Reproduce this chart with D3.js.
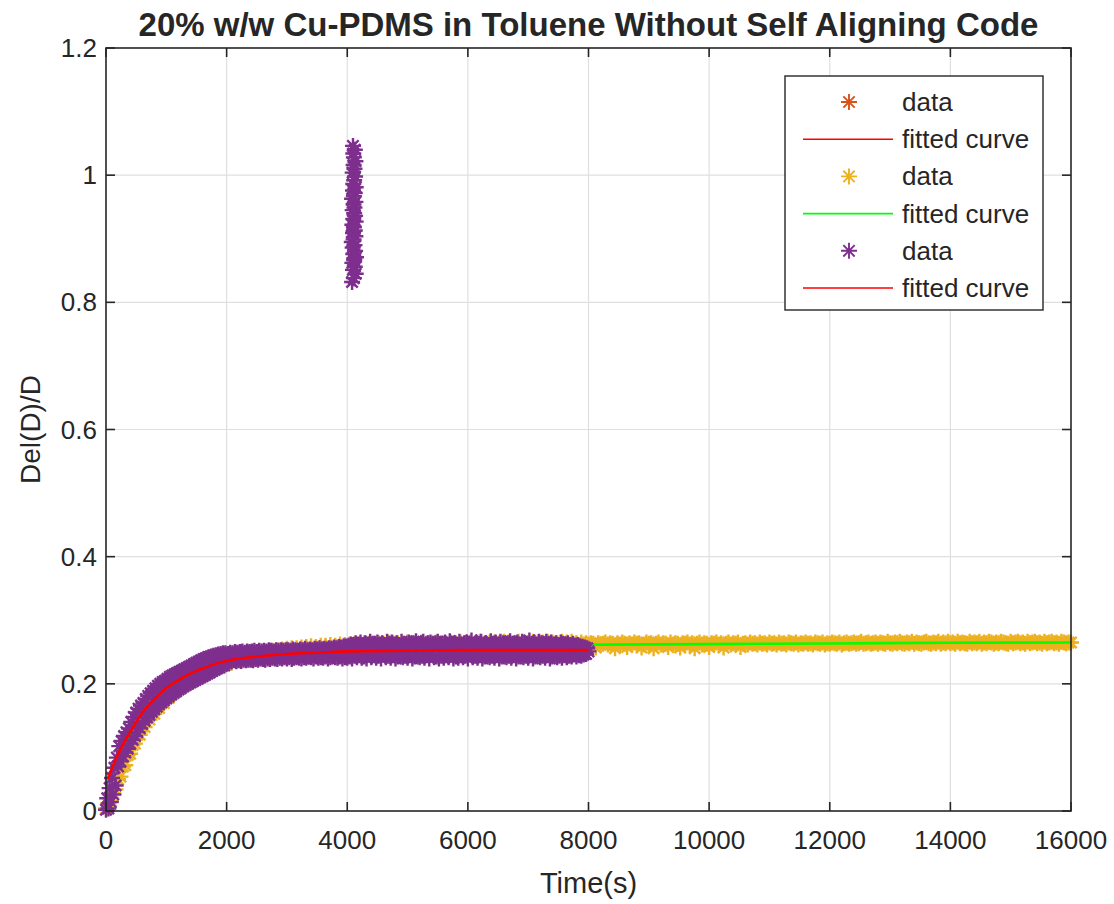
<!DOCTYPE html>
<html>
<head>
<meta charset="utf-8">
<script src="https://cdn.jsdelivr.net/npm/d3@7"></script>
<style>
  body { margin: 0; background: #ffffff; }
  text { font-family: "Liberation Sans", Arial, Helvetica, sans-serif; fill: #262626; }
</style>
</head>
<body>
<svg id="chart" width="1114" height="904"></svg>
<script>
// ---- axis ticks and labels ----
const xTicks = [0, 2000, 4000, 6000, 8000, 10000, 12000, 14000, 16000];
const yTicks = [0, 0.2, 0.4, 0.6, 0.8, 1, 1.2];
const titleText = "20% w/w Cu-PDMS in Toluene Without Self Aligning Code";
const xLabelText = "Time(s)";
const yLabelText = "Del(D)/D";
const legendLabels = ["data", "fitted curve", "data", "fitted curve", "data", "fitted curve"];

// ---- run 1 (drawn first, lies under the later runs) ----
const run1Times  = [2600, 3400, 4300, 5200, 6100, 7000, 7700];
const run1Values = [0.246, 0.250, 0.252, 0.251, 0.253, 0.252, 0.251];
const run1FitTimes  = [2500, 4000, 5500, 7000, 8000];
const run1FitValues = [0.248, 0.251, 0.252, 0.253, 0.253];

// ---- run 2: one sample every 40 s from t = 0 to 16000 s (rows of 400 s) ----
const run2Step = 40;
const run2Values = [
  0.004, 0.012, 0.016, 0.028, 0.034, 0.050, 0.054, 0.070, 0.072, 0.088,
  0.090, 0.104, 0.106, 0.120, 0.120, 0.133, 0.132, 0.146, 0.144, 0.155,
  0.153, 0.165, 0.162, 0.173, 0.170, 0.181, 0.178, 0.188, 0.185, 0.195,
  0.191, 0.201, 0.196, 0.206, 0.201, 0.211, 0.206, 0.215, 0.211, 0.220,
  0.219, 0.227, 0.221, 0.230, 0.224, 0.233, 0.227, 0.235, 0.229, 0.237,
  0.231, 0.238, 0.233, 0.240, 0.235, 0.242, 0.236, 0.244, 0.238, 0.245,
  0.239, 0.246, 0.240, 0.248, 0.242, 0.249, 0.243, 0.250, 0.244, 0.252,
  0.245, 0.253, 0.246, 0.254, 0.247, 0.255, 0.248, 0.256, 0.249, 0.256,
  0.250, 0.257, 0.251, 0.258, 0.251, 0.259, 0.252, 0.258, 0.253, 0.260,
  0.253, 0.260, 0.254, 0.261, 0.254, 0.260, 0.255, 0.262, 0.255, 0.261,
  0.256, 0.262, 0.255, 0.263, 0.256, 0.262, 0.257, 0.264, 0.256, 0.263,
  0.257, 0.263, 0.256, 0.264, 0.258, 0.263, 0.257, 0.265, 0.258, 0.264,
  0.257, 0.264, 0.258, 0.263, 0.257, 0.265, 0.259, 0.264, 0.258, 0.263,
  0.259, 0.265, 0.258, 0.264, 0.259, 0.263, 0.258, 0.265, 0.259, 0.264,
  0.258, 0.264, 0.259, 0.265, 0.258, 0.264, 0.260, 0.265, 0.259, 0.263,
  0.260, 0.265, 0.259, 0.264, 0.260, 0.266, 0.259, 0.264, 0.260, 0.265,
  0.259, 0.265, 0.260, 0.264, 0.259, 0.266, 0.260, 0.265, 0.261, 0.264,
  0.260, 0.266, 0.261, 0.265, 0.260, 0.264, 0.261, 0.266, 0.260, 0.265,
  0.261, 0.265, 0.260, 0.266, 0.261, 0.265, 0.262, 0.264, 0.261, 0.266,
  0.262, 0.265, 0.261, 0.266, 0.262, 0.264, 0.261, 0.265, 0.262, 0.264,
  0.262, 0.264, 0.263, 0.257, 0.264, 0.262, 0.263, 0.265, 0.262, 0.264,
  0.263, 0.256, 0.264, 0.262, 0.265, 0.263, 0.258, 0.264, 0.262, 0.265,
  0.263, 0.264, 0.257, 0.262, 0.265, 0.263, 0.264, 0.256, 0.263, 0.265,
  0.262, 0.264, 0.263, 0.258, 0.265, 0.262, 0.264, 0.263, 0.257, 0.264,
  0.263, 0.265, 0.262, 0.264, 0.256, 0.263, 0.265, 0.262, 0.264, 0.263,
  0.258, 0.264, 0.263, 0.265, 0.262, 0.264, 0.257, 0.263, 0.265, 0.262,
  0.264, 0.263, 0.265, 0.258, 0.263, 0.264, 0.262, 0.265, 0.263, 0.264,
  0.262, 0.265, 0.263, 0.264, 0.262, 0.265, 0.263, 0.264, 0.262, 0.265,
  0.263, 0.264, 0.262, 0.265, 0.264, 0.263, 0.265, 0.262, 0.264, 0.263,
  0.265, 0.263, 0.264, 0.262, 0.265, 0.264, 0.263, 0.265, 0.262, 0.264,
  0.263, 0.265, 0.264, 0.263, 0.265, 0.262, 0.264, 0.265, 0.263, 0.264,
  0.265, 0.263, 0.264, 0.266, 0.263, 0.264, 0.265, 0.263, 0.264, 0.265,
  0.263, 0.265, 0.264, 0.263, 0.266, 0.264, 0.263, 0.265, 0.264, 0.266,
  0.264, 0.263, 0.265, 0.264, 0.266, 0.263, 0.265, 0.264, 0.263, 0.265,
  0.266, 0.264, 0.263, 0.265, 0.264, 0.266, 0.263, 0.265, 0.264, 0.266,
  0.264, 0.265, 0.263, 0.266, 0.264, 0.265, 0.264, 0.263, 0.266, 0.264,
  0.265, 0.264, 0.266, 0.263, 0.265, 0.264, 0.266, 0.265, 0.263, 0.265,
  0.264, 0.266, 0.265, 0.264, 0.263, 0.266, 0.264, 0.265, 0.266, 0.264,
  0.265, 0.263, 0.266, 0.264, 0.265, 0.266, 0.264, 0.265, 0.263, 0.266,
  0.264, 0.265, 0.266, 0.264, 0.265, 0.263, 0.266, 0.265, 0.264, 0.265,
  0.265
];
const run2FitTimes  = [0, 200, 400, 600, 800, 1000, 1300, 1600, 2000, 2500, 3000, 4000, 5000, 6000, 7000, 8000, 10000, 12000, 14000, 16000];
const run2FitValues = [0.045, 0.086, 0.121, 0.150, 0.172, 0.189, 0.207, 0.221, 0.233, 0.244, 0.250, 0.256, 0.258, 0.260, 0.261, 0.2615, 0.2625, 0.2635, 0.2645, 0.265];

// ---- run 3: one sample every 20 s from t = 0 to 8000 s (rows of 200 s) ----
const run3Step = 20;
const run3Values = [
  0.002, 0.020, 0.004, 0.036, 0.014, 0.052, 0.026, 0.068, 0.040, 0.084,
  0.070, 0.102, 0.078, 0.110, 0.086, 0.118, 0.092, 0.124, 0.098, 0.130,
  0.106, 0.140, 0.112, 0.148, 0.118, 0.155, 0.124, 0.161, 0.130, 0.166,
  0.137, 0.170, 0.142, 0.176, 0.147, 0.181, 0.151, 0.185, 0.156, 0.189,
  0.160, 0.193, 0.164, 0.197, 0.168, 0.200, 0.171, 0.203, 0.174, 0.205,
  0.177, 0.208, 0.180, 0.211, 0.183, 0.213, 0.186, 0.215, 0.188, 0.217,
  0.191, 0.219, 0.193, 0.221, 0.196, 0.223, 0.198, 0.225, 0.200, 0.227,
  0.202, 0.229, 0.204, 0.231, 0.206, 0.233, 0.208, 0.235, 0.210, 0.237,
  0.212, 0.239, 0.214, 0.240, 0.216, 0.242, 0.218, 0.243, 0.220, 0.244,
  0.222, 0.245, 0.224, 0.246, 0.226, 0.247, 0.228, 0.248, 0.229, 0.248,
  0.234, 0.247, 0.236, 0.249, 0.235, 0.248, 0.237, 0.250, 0.236, 0.249,
  0.237, 0.250, 0.236, 0.251, 0.238, 0.249, 0.237, 0.251, 0.238, 0.250,
  0.238, 0.251, 0.237, 0.252, 0.239, 0.250, 0.238, 0.252, 0.240, 0.251,
  0.239, 0.252, 0.238, 0.251, 0.240, 0.253, 0.239, 0.252, 0.241, 0.251,
  0.240, 0.253, 0.239, 0.252, 0.241, 0.253, 0.240, 0.252, 0.242, 0.253,
  0.240, 0.253, 0.242, 0.252, 0.239, 0.254, 0.241, 0.253, 0.243, 0.252,
  0.241, 0.254, 0.240, 0.253, 0.242, 0.255, 0.241, 0.253, 0.243, 0.254,
  0.242, 0.253, 0.240, 0.255, 0.243, 0.254, 0.241, 0.256, 0.242, 0.254,
  0.241, 0.255, 0.243, 0.254, 0.240, 0.256, 0.242, 0.255, 0.244, 0.257,
  0.242, 0.256, 0.241, 0.258, 0.243, 0.257, 0.240, 0.259, 0.242, 0.258,
  0.241, 0.260, 0.243, 0.262, 0.240, 0.261, 0.244, 0.264, 0.242, 0.262,
  0.245, 0.265, 0.241, 0.261, 0.243, 0.264, 0.240, 0.262, 0.246, 0.266,
  0.242, 0.263, 0.245, 0.260, 0.241, 0.265, 0.244, 0.262, 0.240, 0.264,
  0.246, 0.261, 0.242, 0.266, 0.244, 0.263, 0.241, 0.265, 0.245, 0.262,
  0.240, 0.264, 0.243, 0.261, 0.246, 0.266, 0.242, 0.263, 0.244, 0.260,
  0.241, 0.265, 0.245, 0.262, 0.240, 0.264, 0.243, 0.267, 0.246, 0.261,
  0.242, 0.263, 0.244, 0.266, 0.241, 0.262, 0.245, 0.264, 0.240, 0.265,
  0.246, 0.261, 0.242, 0.264, 0.243, 0.266, 0.240, 0.263, 0.244, 0.262,
  0.241, 0.265, 0.245, 0.262, 0.242, 0.267, 0.246, 0.263, 0.240, 0.264,
  0.243, 0.262, 0.241, 0.266, 0.245, 0.261, 0.242, 0.264, 0.244, 0.265,
  0.240, 0.263, 0.246, 0.268, 0.242, 0.262, 0.244, 0.265, 0.241, 0.263,
  0.245, 0.266, 0.240, 0.262, 0.243, 0.264, 0.246, 0.261, 0.242, 0.267,
  0.244, 0.263, 0.241, 0.265, 0.245, 0.262, 0.240, 0.266, 0.243, 0.264,
  0.246, 0.261, 0.242, 0.264, 0.244, 0.267, 0.241, 0.263, 0.245, 0.262,
  0.240, 0.265, 0.243, 0.262, 0.246, 0.266, 0.242, 0.264, 0.244, 0.261,
  0.241, 0.268, 0.245, 0.263, 0.240, 0.265, 0.243, 0.262, 0.246, 0.266,
  0.242, 0.264, 0.244, 0.261, 0.241, 0.266, 0.245, 0.263, 0.240, 0.265,
  0.243, 0.262, 0.246, 0.264, 0.242, 0.261, 0.244, 0.265, 0.241, 0.263,
  0.245, 0.262, 0.242, 0.264, 0.244, 0.261, 0.243, 0.263, 0.246, 0.260,
  0.243, 0.261, 0.245, 0.259, 0.244, 0.258, 0.246, 0.257, 0.247, 0.256,
  0.251
];
// burst of readings around t = 4100 s
const run3BurstTimes  = [4080, 4110, 4140, 4095, 4125, 4085, 4115, 4145, 4100, 4130, 4090, 4120, 4075, 4105, 4135, 4095, 4125, 4110, 4085, 4140, 4100, 4130, 4115, 4090, 4120, 4105, 4135, 4080, 4110, 4125, 4095, 4140, 4100, 4115, 4130, 4090, 4120, 4105, 4135, 4110, 4100, 4125, 4095, 4115, 4105];
const run3BurstValues = [0.832, 0.838, 0.845, 0.851, 0.856, 0.862, 0.866, 0.871, 0.876, 0.881, 0.886, 0.890, 0.895, 0.899, 0.904, 0.909, 0.913, 0.918, 0.922, 0.927, 0.931, 0.936, 0.940, 0.945, 0.949, 0.954, 0.958, 0.963, 0.967, 0.972, 0.976, 0.981, 0.986, 0.992, 0.998, 1.004, 1.010, 1.016, 1.022, 1.028, 1.034, 1.040, 1.046, 0.868, 0.912];
const run3FitTimes  = [30, 100, 200, 300, 400, 500, 600, 700, 800, 900, 1000, 1200, 1400, 1600, 1800, 2100, 2500, 3000, 3500, 4000, 5000, 6000, 7000, 8000];
const run3FitValues = [0.050, 0.068, 0.089, 0.108, 0.124, 0.140, 0.154, 0.166, 0.176, 0.185, 0.193, 0.206, 0.216, 0.224, 0.231, 0.238, 0.243, 0.247, 0.249, 0.251, 0.252, 0.253, 0.253, 0.253];

// ---- colours ----
const colRun1 = "#D95319";
const colRun2 = "#EDB120";
const colRun3 = "#7E2F8E";
const colRedFit = "#ff0000";
const colGreenFit = "#00ff00";

// ---- layout ----
const W = 1114, H = 904;
const plot = { left: 106, right: 1071, top: 48, bottom: 811 };
const textCol = "#262626";

const svg = d3.select("#chart");
svg.append("rect").attr("width", W).attr("height", H).attr("fill", "#ffffff");

const x = d3.scaleLinear().domain([0, 16000]).range([plot.left, plot.right]);
const y = d3.scaleLinear().domain([0, 1.2]).range([plot.bottom, plot.top]);

// grid
const grid = svg.append("g").attr("stroke", "#dfdfdf").attr("stroke-width", 1.2);
grid.selectAll("line.gx").data(xTicks.slice(1, -1)).join("line")
  .attr("x1", d => x(d)).attr("x2", d => x(d))
  .attr("y1", plot.top).attr("y2", plot.bottom);
grid.selectAll("line.gy").data(yTicks.slice(1, -1)).join("line")
  .attr("x1", plot.left).attr("x2", plot.right)
  .attr("y1", d => y(d)).attr("y2", d => y(d));

// asterisk marker path centred on the origin
function asterisk(r) {
  const d = r * Math.SQRT1_2;
  return `M${-r},0L${r},0M0,${-r}L0,${r}M${-d},${-d}L${d},${d}M${-d},${d}L${d},${-d}`;
}
const markR = 8;
const markPath = asterisk(markR);

function drawMarkers(points, colour) {
  svg.append("g")
    .attr("fill", "none").attr("stroke", colour).attr("stroke-width", 2.4)
    .selectAll("path").data(points).join("path")
    .attr("d", markPath)
    .attr("transform", p => `translate(${x(p.t)},${y(p.v)})`);
}
const fitLine = d3.line().x(p => x(p.t)).y(p => y(p.v)).curve(d3.curveMonotoneX);
function drawFit(points, colour) {
  svg.append("path").datum(points)
    .attr("fill", "none").attr("stroke", colour).attr("stroke-width", 2.6)
    .attr("stroke-linejoin", "round")
    .attr("d", fitLine);
}
const zipPts = (ts, vs) => ts.map((t, i) => ({ t, v: vs[i] }));

const run1Pts = zipPts(run1Times, run1Values);
const run1Fit = zipPts(run1FitTimes, run1FitValues);
const run2Pts = run2Values.map((v, i) => ({ t: i * run2Step, v }));
const run2Fit = zipPts(run2FitTimes, run2FitValues);
const run3Pts = run3Values.map((v, i) => ({ t: i * run3Step, v }))
  .concat(zipPts(run3BurstTimes, run3BurstValues));
const run3Fit = zipPts(run3FitTimes, run3FitValues);

drawMarkers(run1Pts, colRun1);
drawFit(run1Fit, colRedFit);
drawMarkers(run2Pts, colRun2);
drawFit(run2Fit, colGreenFit);
drawMarkers(run3Pts, colRun3);
drawFit(run3Fit, colRedFit);

// axes box with inward ticks
const axisG = svg.append("g").attr("stroke", textCol).attr("stroke-width", 1.6).attr("fill", "none");
axisG.append("rect")
  .attr("x", plot.left).attr("y", plot.top)
  .attr("width", plot.right - plot.left).attr("height", plot.bottom - plot.top);
const tickLen = 9;
axisG.selectAll("line.tb").data(xTicks).join("line")
  .attr("x1", d => x(d)).attr("x2", d => x(d)).attr("y1", plot.bottom).attr("y2", plot.bottom - tickLen);
axisG.selectAll("line.tt").data(xTicks).join("line")
  .attr("x1", d => x(d)).attr("x2", d => x(d)).attr("y1", plot.top).attr("y2", plot.top + tickLen);
axisG.selectAll("line.tl").data(yTicks).join("line")
  .attr("x1", plot.left).attr("x2", plot.left + tickLen).attr("y1", d => y(d)).attr("y2", d => y(d));
axisG.selectAll("line.tr").data(yTicks).join("line")
  .attr("x1", plot.right).attr("x2", plot.right - tickLen).attr("y1", d => y(d)).attr("y2", d => y(d));

// tick labels
const tickFont = 26;
svg.append("g").selectAll("text").data(xTicks).join("text")
  .attr("x", d => x(d)).attr("y", plot.bottom + 38)
  .attr("text-anchor", "middle").attr("font-size", tickFont)
  .text(d => d3.format("d")(d));
svg.append("g").selectAll("text").data(yTicks).join("text")
  .attr("x", plot.left - 9).attr("y", d => y(d) + 9)
  .attr("text-anchor", "end").attr("font-size", tickFont)
  .text(d => d3.format("~g")(d));

// axis labels and title
svg.append("text").attr("x", (plot.left + plot.right) / 2).attr("y", 893)
  .attr("text-anchor", "middle").attr("font-size", 29).text(xLabelText);
svg.append("text")
  .attr("transform", `translate(40,${(plot.top + plot.bottom) / 2}) rotate(-90)`)
  .attr("text-anchor", "middle").attr("font-size", 28).text(yLabelText);
svg.append("text").attr("x", (plot.left + plot.right) / 2).attr("y", 36)
  .attr("text-anchor", "middle").attr("font-size", 33).attr("font-weight", "bold")
  .text(titleText);

// legend
const leg = { x: 785, y: 76, w: 258, h: 234 };
const legG = svg.append("g");
legG.append("rect").attr("x", leg.x).attr("y", leg.y).attr("width", leg.w).attr("height", leg.h)
  .attr("fill", "#ffffff").attr("stroke", textCol).attr("stroke-width", 1.4);
const legendKinds = [
  { kind: "mark", colour: colRun1 }, { kind: "line", colour: colRedFit },
  { kind: "mark", colour: colRun2 }, { kind: "line", colour: colGreenFit },
  { kind: "mark", colour: colRun3 }, { kind: "line", colour: colRedFit }
];
const rowY = d3.scaleLinear().domain([0, 5]).range([102, 288]);
legendKinds.forEach((k, i) => {
  const cy = rowY(i);
  if (k.kind === "mark") {
    legG.append("path").attr("d", markPath).attr("fill", "none")
      .attr("stroke", k.colour).attr("stroke-width", 1.9)
      .attr("transform", `translate(849,${cy})`);
  } else {
    legG.append("line").attr("x1", 803).attr("x2", 893).attr("y1", cy).attr("y2", cy)
      .attr("stroke", k.colour).attr("stroke-width", 1.6);
  }
  legG.append("text").attr("x", 902).attr("y", cy + 9).attr("font-size", 26).text(legendLabels[i]);
});
</script>
</body>
</html>
